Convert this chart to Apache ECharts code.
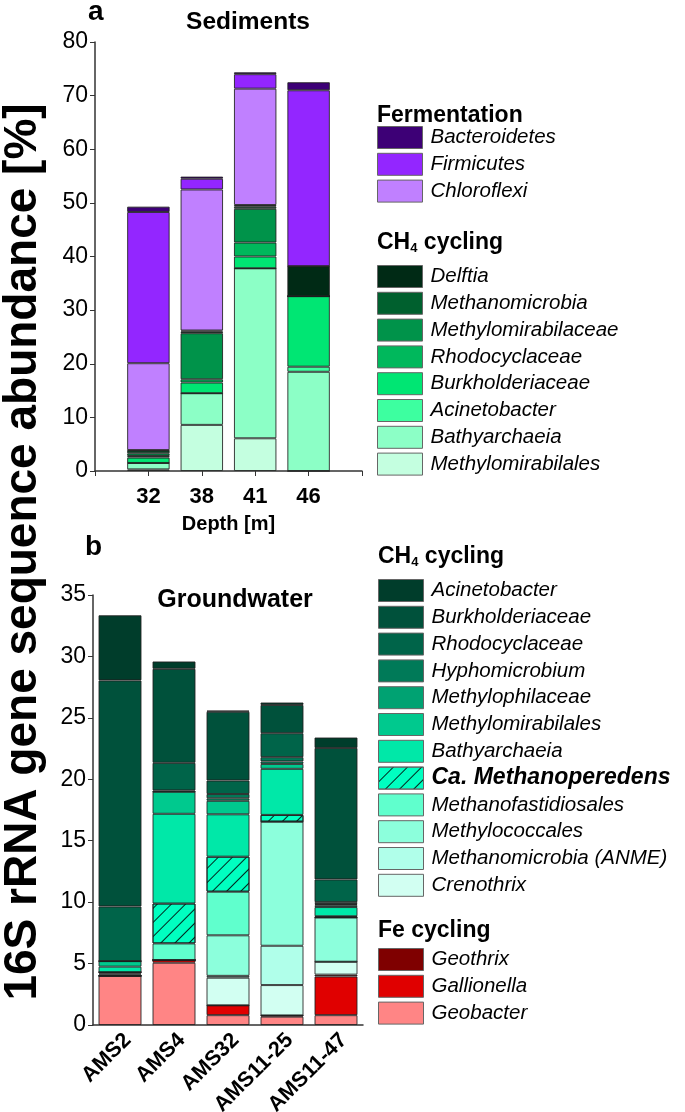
<!DOCTYPE html>
<html><head><meta charset="utf-8">
<script src="https://cdn.jsdelivr.net/npm/echarts@6/dist/echarts.min.js"></script>
<style>html,body{margin:0;padding:0;background:#fff}#c{width:685px;height:1112px}</style>
</head><body><div id="c"></div>
<script>
// ---------- Panel a: Sediments ----------
const depthCategories = ['32', '38', '41', '46'];
const sedMethylomirabilales = [0.3, 8.6, 6.1, 0];
const sedBathyarchaeia = [1.2, 5.9, 31.7, 18.5];
const sedAcinetobacter = [0, 0, 0, 0.95];
const sedBurkholderiaceae = [1.0, 2.0, 2.2, 13.15];
const sedRhodocyclaceae = [0.3, 0.6, 2.6, 0];
const sedMethylomirabilaceae = [0.5, 8.6, 6.3, 0];
const sedMethanomicrobia = [0.5, 0.3, 0.4, 0];
const sedDelftia = [0.1, 0.2, 0.3, 5.6];
const sedChloroflexi = [16.2, 26.3, 21.7, 0];
const sedFirmicutes = [28.2, 2.0, 2.7, 32.8];
const sedBacteroidetes = [1.0, 0.4, 0.35, 1.5];
const sedYTicks = [0, 80, 10];

// ---------- Panel b: Groundwater ----------
const wellCategories = ['AMS2', 'AMS4', 'AMS32', 'AMS11-25', 'AMS11-47'];
const gwGeobacter = [4.0, 5.07, 0.8, 0.68, 0.8];
const gwGallionella = [0, 0.22, 0.8, 0.1, 3.15];
const gwGeothrix = [0, 0, 0, 0, 0.15];
const gwCrenothrix = [0, 0, 2.25, 2.47, 1.05];
const gwANME = [0.1, 0, 0.15, 3.2, 0];
const gwMethylococcales = [0.1, 0, 3.3, 10.1, 3.6];
const gwMethanofastidiosales = [0.1, 1.35, 3.55, 0, 0];
const gwMethanoperedens = [0, 3.25, 2.85, 0.55, 0.1];
const gwBathyarchaeia = [0.45, 7.3, 3.45, 3.75, 0.75];
const gwMethylomirabilales = [0.45, 1.8, 1.1, 0.4, 0.15];
const gwMethylophilaceae = [0, 0, 0.2, 0.2, 0.1];
const gwHyphomicrobium = [0, 0.1, 0.35, 0.35, 0.15];
const gwRhodocyclaceae = [4.45, 2.25, 1.1, 1.95, 1.85];
const gwBurkholderiaceae = [18.4, 7.65, 5.6, 2.3, 10.7];
const gwAcinetobacter = [5.3, 0.6, 0.1, 0.2, 0.85];
const gwYTicks = [0, 35, 5];

const FONT = "'Liberation Sans', Arial, sans-serif";

// stack order bottom -> top
const sedSeries = [
  ['Methylomirabilales', sedMethylomirabilales, '#c4ffe0'],
  ['Bathyarchaeia', sedBathyarchaeia, '#8cffc6'],
  ['Acinetobacter', sedAcinetobacter, '#3dffa0'],
  ['Burkholderiaceae', sedBurkholderiaceae, '#00e673'],
  ['Rhodocyclaceae', sedRhodocyclaceae, '#00b85c'],
  ['Methylomirabilaceae', sedMethylomirabilaceae, '#00934a'],
  ['Methanomicrobia', sedMethanomicrobia, '#00602e'],
  ['Delftia', sedDelftia, '#002a15'],
  ['Chloroflexi', sedChloroflexi, '#c080ff'],
  ['Firmicutes', sedFirmicutes, '#9326ff'],
  ['Bacteroidetes', sedBacteroidetes, '#3d0076']
];
const gwSeries = [
  ['Geobacter', gwGeobacter, '#ff8585'],
  ['Gallionella', gwGallionella, '#e00000'],
  ['Geothrix', gwGeothrix, '#7f0000'],
  ['Crenothrix', gwCrenothrix, '#d2fff2'],
  ['Methanomicrobia (ANME)', gwANME, '#b0ffea'],
  ['Methylococcales', gwMethylococcales, '#8cffdc'],
  ['Methanofastidiosales', gwMethanofastidiosales, '#60ffcd'],
  ['Ca. Methanoperedens', gwMethanoperedens, '#00ffc0'],
  ['Bathyarchaeia', gwBathyarchaeia, '#00e8a8'],
  ['Methylomirabilales', gwMethylomirabilales, '#00c98e'],
  ['Methylophilaceae', gwMethylophilaceae, '#00a272'],
  ['Hyphomicrobium', gwHyphomicrobium, '#007a58'],
  ['Rhodocyclaceae', gwRhodocyclaceae, '#006449'],
  ['Burkholderiaceae', gwBurkholderiaceae, '#00513b'],
  ['Acinetobacter', gwAcinetobacter, '#003d2b']
];
const SUF = ' '; // keeps panel-b legend names distinct from panel a

const series = [];
sedSeries.forEach(([n, d, c]) => series.push({
  type: 'bar', name: n, stack: 'sed', xAxisIndex: 0, yAxisIndex: 0,
  data: [null].concat(d).concat([null]), barWidth: 42.5,
  itemStyle: { color: c, borderColor: 'rgba(30,30,30,0.85)', borderWidth: 1 },
  emphasis: { disabled: true }, animation: false
}));
gwSeries.forEach(([n, d, c]) => {
  const s = {
    type: 'bar', name: n + SUF, stack: 'gw', xAxisIndex: 1, yAxisIndex: 1,
    data: d, barWidth: 43,
    itemStyle: { color: c, borderColor: 'rgba(30,30,30,0.85)', borderWidth: 1 },
    emphasis: { disabled: true }, animation: false
  };
  if (n === 'Ca. Methanoperedens') {
    s.itemStyle.decal = { symbol: 'rect', dashArrayX: [1, 0], dashArrayY: [1, 9], rotation: -Math.PI / 4, color: 'rgba(0,0,0,0.85)' };
  }
  series.push(s);
});

const legendBase = {
  orient: 'vertical', itemWidth: 45, itemHeight: 22, itemGap: 3.8, icon: 'rect',
  selectedMode: false, padding: 0,
  itemStyle: { borderColor: '#666', borderWidth: 1 },
  textStyle: { fontFamily: FONT, fontSize: 20.5, fontStyle: 'italic', color: '#000', padding: [0, 0, 0, 3] }
};
const legends = [
  Object.assign({}, legendBase, { left: 377, top: 126, data: ['Bacteroidetes', 'Firmicutes', 'Chloroflexi'] }),
  Object.assign({}, legendBase, { left: 377, top: 265, data: sedSeries.slice(0, 8).map(s => s[0]).reverse() }),
  Object.assign({}, legendBase, { left: 378, top: 579, data: gwSeries.slice(3).map(s => {
    const o = { name: s[0] + SUF };
    if (s[0] === 'Ca. Methanoperedens') o.textStyle = { fontWeight: 'bold', fontSize: 23 };
    return o;
  }).reverse() }),
  Object.assign({}, legendBase, { left: 378, top: 948, data: gwSeries.slice(0, 3).map(s => s[0] + SUF).reverse() })
];

const axisLineStyle = { lineStyle: { color: '#333', width: 1.5 } };
const option = {
  backgroundColor: '#fff',
  animation: false,
  grid: [
    { left: 95, right: 323, top: 42, bottom: 641, containLabel: false, outerBoundsMode: 'none' },
    { left: 93, right: 322, top: 595, bottom: 87, containLabel: false, outerBoundsMode: 'none' }
  ],
  xAxis: [
    { type: 'category', gridIndex: 0, data: [''].concat(depthCategories).concat(['']), boundaryGap: false,
      axisLine: axisLineStyle, axisTick: { length: 5, lineStyle: { color: '#333' } },
      axisLabel: { fontFamily: FONT, fontSize: 22, fontWeight: 'bold', color: '#000', margin: 15 },
      name: 'Depth [m]', nameLocation: 'middle', nameGap: 43,
      nameTextStyle: { fontFamily: FONT, fontSize: 20, fontWeight: 'bold', color: '#000' } },
    { type: 'category', gridIndex: 1, data: wellCategories,
      axisLine: axisLineStyle, axisTick: { alignWithLabel: true, length: 5, lineStyle: { color: '#333' } },
      axisLabel: { fontFamily: FONT, fontSize: 21.5, fontWeight: 'bold', color: '#000', rotate: 45, margin: 4, verticalAlign: 'top' } }
  ],
  yAxis: [
    { type: 'value', gridIndex: 0, min: sedYTicks[0], max: sedYTicks[1], interval: sedYTicks[2],
      axisLine: Object.assign({ show: true }, axisLineStyle), axisTick: { show: true, length: 5, lineStyle: { color: '#333' } },
      splitLine: { show: false },
      axisLabel: { fontFamily: FONT, fontSize: 23, color: '#000', margin: 7 } },
    { type: 'value', gridIndex: 1, min: gwYTicks[0], max: gwYTicks[1], interval: gwYTicks[2],
      axisLine: Object.assign({ show: true }, axisLineStyle), axisTick: { show: true, length: 5, lineStyle: { color: '#333' } },
      splitLine: { show: false },
      axisLabel: { fontFamily: FONT, fontSize: 23, color: '#000', margin: 7 } }
  ],
  legend: legends,
  graphic: [
    { type: 'text', left: 88, top: -2, style: { text: 'a', font: 'bold 28px ' + FONT, fill: '#000' } },
    { type: 'text', left: 85, top: 533, style: { text: 'b', font: 'bold 28px ' + FONT, fill: '#000' } },
    { type: 'text', x: 248, y: 22, style: { text: 'Sediments', font: 'bold 24.5px ' + FONT, fill: '#000', align: 'center', verticalAlign: 'middle' } },
    { type: 'text', x: 235, y: 600, style: { text: 'Groundwater', font: 'bold 25px ' + FONT, fill: '#000', align: 'center', verticalAlign: 'middle' } },
    { type: 'text', x: 23, y: 552, rotation: Math.PI / 2,
      style: { text: '16S rRNA gene sequence abundance [%]', font: 'bold 46px ' + FONT, fill: '#000', align: 'center', verticalAlign: 'middle' } },
    { type: 'text', left: 377, top: 104, style: { text: 'Fermentation', font: 'bold 23px ' + FONT, fill: '#000' } },
    { type: 'text', left: 377, top: 231, style: { text: 'CH{s|4} cycling', font: 'bold 23px ' + FONT, fill: '#000',
      rich: { s: { font: 'bold 13px ' + FONT, verticalAlign: 'bottom', padding: [12, 0, 0, 0] } } } },
    { type: 'text', left: 378, top: 545, style: { text: 'CH{s|4} cycling', font: 'bold 23px ' + FONT, fill: '#000',
      rich: { s: { font: 'bold 13px ' + FONT, verticalAlign: 'bottom', padding: [12, 0, 0, 0] } } } },
    { type: 'text', left: 378, top: 919, style: { text: 'Fe cycling', font: 'bold 23px ' + FONT, fill: '#000' } }
  ],
  series: series
};
const chart = echarts.init(document.getElementById('c'), null, { renderer: 'canvas' });
chart.setOption(option);
</script></body></html>
